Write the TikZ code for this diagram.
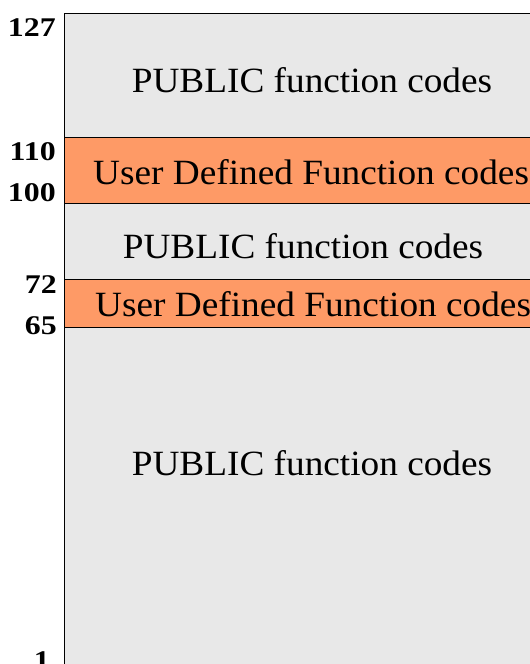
\documentclass[tikz,border=0pt]{standalone}
\usepackage{fontspec}
\setmainfont{Liberation Serif}
\definecolor{pubgray}{HTML}{E8E8E8}
\definecolor{udforange}{HTML}{FE9A66}
\begin{document}
\begin{tikzpicture}[x=1pt,y=-1pt,
  band/.style={draw=black, line width=0.8pt},
  bandtext/.style={font=\fontsize{35.5}{35.5}\selectfont, inner sep=0pt, xscale=1.05},
  numlabel/.style={font=\bfseries\fontsize{27}{27}\selectfont, anchor=east, inner sep=0pt, xscale=1.18}]
\useasboundingbox (0,0) rectangle (530,664);
\begin{scope}
\clip (0,0) rectangle (530,664);
\fill[pubgray] (64,13) rectangle (540,680);
\draw[band, fill=udforange] (64,137) rectangle (540,203);
\draw[band, fill=udforange] (64,279) rectangle (540,327);
\draw[line width=0.8pt] (540,13) -- (64,13) -- (64,680);
\node[bandtext] (p1) at (312,80) {PUBLIC function codes};
\node[bandtext, anchor=west] (u1) at (93,172) {User Defined Function codes};
\node[bandtext] (p2) at (303,246) {PUBLIC function codes};
\node[bandtext, anchor=west] (u2) at (95,304) {User Defined Function codes};
\node[bandtext] (p3) at (312,463) {PUBLIC function codes};
\node[numlabel] (l127) at (56,28) {127};
\node[numlabel] (l110) at (56,152) {110};
\node[numlabel] (l100) at (56,193) {100};
\node[numlabel] (l72) at (57,285) {72};
\node[numlabel] (l65) at (57,326) {65};
\node[numlabel] (l1) at (50,661) {1};
\end{scope}
\end{tikzpicture}
\end{document}
